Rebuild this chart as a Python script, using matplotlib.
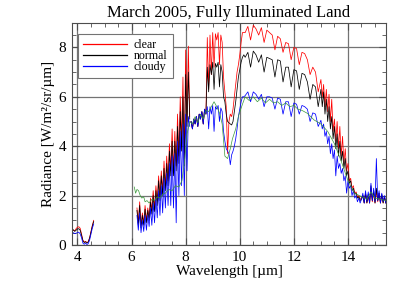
import numpy as np
import matplotlib
matplotlib.use("Agg")
import matplotlib.pyplot as plt
from matplotlib.ticker import MultipleLocator

plt.rcParams['font.family'] = ['Liberation Serif', 'DejaVu Serif']

# ---- data (wavelength in um, radiance in W/m2/sr/um) ----
# short-wave piece, 3.8 - 4.6 um
wl_a = [3.80, 3.85, 3.90, 3.95, 4.00, 4.05, 4.10, 4.15, 4.20, 4.25, 4.30, 4.35,
        4.40, 4.45, 4.50, 4.55, 4.60]
clear_a = [0.55, 0.60, 0.58, 0.66, 0.72, 0.74, 0.68, 0.45, 0.20, 0.12, 0.15, 0.10,
           0.14, 0.30, 0.55, 0.80, 1.00]
normal_a = [0.55, 0.62, 0.55, 0.60, 0.65, 0.66, 0.60, 0.40, 0.18, 0.10, 0.13, 0.08,
            0.12, 0.28, 0.52, 0.76, 0.95]
cloudy_a = [0.45, 0.50, 0.46, 0.48, 0.50, 0.52, 0.45, 0.30, 0.08, 0.03, 0.08, 0.02,
            0.06, 0.20, 0.45, 0.68, 0.85]

# water vapour band, 6.2 - 8.15 um
wl_b = [6.20, 6.25, 6.30, 6.35, 6.40, 6.45, 6.50, 6.55, 6.60, 6.65, 6.70, 6.75,
        6.80, 6.85, 6.90, 6.95, 7.00, 7.05, 7.10, 7.15, 7.20, 7.25, 7.30, 7.35,
        7.40, 7.45, 7.50, 7.55, 7.60, 7.65, 7.70, 7.75, 7.80, 7.85, 7.90, 7.95,
        8.00, 8.05, 8.10, 8.15]
clear_b = [1.5, 0.9, 1.75, 0.8, 1.3, 0.9, 1.6, 1.0, 1.5, 1.1, 1.9, 1.4,
           2.2, 1.5, 2.4, 1.8, 2.8, 2.0, 3.0, 2.2, 3.4, 2.4, 3.6, 2.6,
           4.1, 3.0, 4.7, 3.0, 4.6, 3.2, 5.3, 3.6, 6.0, 4.2, 6.8, 3.5,
           7.9, 5.0, 8.05, 5.2]
normal_b = [1.4, 0.8, 1.6, 0.7, 1.2, 0.8, 1.45, 0.9, 1.4, 1.0, 1.75, 1.25,
            2.0, 1.35, 2.2, 1.6, 2.6, 1.8, 2.8, 2.0, 3.1, 2.2, 3.3, 2.4,
            3.8, 2.8, 4.2, 2.8, 4.2, 3.0, 4.8, 3.3, 5.4, 3.8, 6.0, 3.2,
            6.9, 4.8, 7.0, 5.1]
cloudy_b = [1.2, 0.6, 1.3, 0.5, 1.0, 0.55, 1.2, 0.6, 1.2, 0.75, 1.5, 0.8,
            1.7, 0.9, 1.9, 1.1, 2.2, 1.2, 2.4, 1.3, 2.7, 1.5, 2.9, 1.6,
            3.3, 1.6, 3.6, 1.5, 3.7, 0.9, 4.2, 2.0, 4.6, 2.4, 4.9, 2.0,
            5.3, 3.0, 5.2, 4.8]

# window region with ozone band, 8.2 - 10.15 um
wl_c = [8.20, 8.25, 8.30, 8.35, 8.40, 8.45, 8.50, 8.55, 8.60, 8.65, 8.70, 8.75,
        8.80, 8.85, 8.90, 8.95, 9.00, 9.05, 9.10, 9.15, 9.20, 9.25, 9.30, 9.35,
        9.40, 9.45, 9.50, 9.55, 9.60, 9.65, 9.70, 9.75, 9.80, 9.85, 9.90, 9.95,
        10.00, 10.05, 10.10, 10.15]
clear_c = [5.0, 4.7, 5.1, 4.9, 5.2, 4.8, 5.3, 5.1, 5.4, 4.9, 5.5, 5.3,
           8.4, 6.3, 8.5, 6.9, 8.6, 7.2, 8.55, 8.3, 8.6, 7.3, 8.5, 8.2,
           6.8, 6.2, 5.6, 3.7, 5.0, 5.3, 5.2, 5.5, 6.0, 6.5, 7.0, 7.3,
           7.7, 8.2, 8.6, 8.6]
normal_c = [5.0, 4.7, 5.1, 4.9, 5.2, 4.8, 5.3, 5.1, 5.4, 4.9, 5.5, 5.3,
            7.2, 6.2, 7.3, 6.9, 7.4, 6.3, 7.35, 7.2, 7.4, 6.4, 7.3, 7.0,
            6.0, 5.8, 5.3, 5.0, 4.95, 4.9, 4.86, 5.0, 5.4, 5.8, 6.3, 6.8,
            7.1, 7.4, 7.6, 7.7]
cloudy_c = [5.0, 4.7, 5.1, 4.9, 5.2, 4.8, 5.3, 5.1, 5.4, 4.9, 5.5, 5.3,
            5.6, 4.7, 5.6, 5.3, 5.65, 4.6, 5.6, 5.5, 5.65, 5.0, 5.55, 5.4,
            4.6, 4.2, 3.9, 3.8, 3.7, 3.25, 3.65, 3.8, 4.0, 4.3, 4.7, 5.2,
            5.5, 5.8, 6.0, 6.0]

# upper window, 10.2 - 13.0 um
wl_d = [10.2, 10.3, 10.4, 10.5, 10.6, 10.7, 10.8, 10.9, 11.0, 11.1, 11.2, 11.3,
        11.4, 11.5, 11.6, 11.7, 11.8, 11.9, 12.0, 12.1, 12.2, 12.3, 12.4, 12.5,
        12.6, 12.7, 12.8, 12.9, 13.0]
clear_d = [8.6, 8.85, 8.3, 8.9, 8.75, 8.5, 8.8, 8.2, 8.7, 8.6, 8.5, 7.9,
           8.45, 8.35, 7.8, 8.2, 8.15, 7.5, 8.0, 7.95, 7.3, 7.8, 7.75, 7.5,
           6.9, 7.2, 7.0, 6.2, 6.7]
normal_d = [7.6, 7.8, 7.2, 7.85, 7.7, 7.4, 7.7, 7.0, 7.6, 7.55, 7.5, 6.8,
            7.5, 7.45, 6.6, 7.2, 7.2, 6.4, 7.1, 7.05, 6.3, 6.95, 6.9, 6.6,
            5.9, 6.5, 6.4, 5.6, 6.3]
cloudy_d = [6.05, 6.2, 5.8, 6.2, 6.1, 5.9, 6.1, 5.6, 6.0, 6.0, 5.95, 5.5,
            5.95, 5.9, 5.3, 5.8, 5.8, 5.2, 5.75, 5.7, 5.3, 5.65, 5.6, 5.5,
            5.0, 5.35, 5.3, 4.8, 5.05]

# CO2 band edge, 13.05 - 14.5 um
wl_e = [13.05, 13.10, 13.15, 13.20, 13.25, 13.30, 13.35, 13.40, 13.45, 13.50,
        13.55, 13.60, 13.65, 13.70, 13.75, 13.80, 13.85, 13.90, 13.95, 14.00,
        14.05, 14.10, 14.15, 14.20, 14.25, 14.30, 14.35, 14.40, 14.45, 14.50]
clear_e = [6.0, 6.5, 5.6, 6.3, 5.4, 6.1, 5.0, 5.9, 4.6, 5.1,
           4.2, 5.0, 3.9, 4.8, 3.6, 4.4, 3.3, 3.9, 3.0, 3.3,
           2.6, 2.7, 2.3, 2.4, 2.1, 2.15, 1.95, 2.0, 1.85, 1.9]
normal_e = [5.6, 6.2, 5.3, 5.9, 5.0, 5.6, 4.7, 5.2, 4.3, 4.8,
            3.9, 4.5, 3.6, 4.2, 3.4, 3.8, 3.1, 3.5, 2.8, 3.0,
            2.5, 2.6, 2.2, 2.3, 2.05, 2.1, 1.9, 1.95, 1.8, 1.85]
cloudy_e = [4.7, 4.9, 4.4, 4.6, 4.1, 4.4, 3.7, 4.1, 3.5, 3.85,
            2.8, 3.6, 3.1, 3.3, 2.9, 3.1, 2.6, 2.8, 2.1, 2.6,
            2.3, 2.4, 2.0, 2.2, 1.9, 2.0, 1.75, 1.9, 1.7, 1.85]

# CO2 band centre, 14.55 - 15.4 um (all three cases overlap)
wl_f = [14.55, 14.60, 14.65, 14.70, 14.75, 14.80, 14.85, 14.90, 14.95, 15.00,
        15.05, 15.10, 15.15, 15.20, 15.25, 15.30, 15.35, 15.40]
clear_f = [2.0, 1.7, 2.1, 1.7, 2.0, 1.7, 2.3, 1.75, 2.1, 1.7,
           2.2, 1.75, 2.1, 1.7, 2.0, 1.7, 1.95, 1.7]
normal_f = [2.0, 1.7, 2.1, 1.7, 2.05, 1.7, 2.4, 1.8, 2.2, 1.7,
            2.3, 1.8, 2.1, 1.7, 2.05, 1.7, 1.95, 1.7]
cloudy_f = [2.1, 1.7, 2.2, 1.75, 2.15, 1.7, 2.5, 1.8, 2.3, 1.75,
            3.5, 1.8, 2.2, 1.7, 2.1, 1.75, 2.0, 1.7]

# thin green reference curve
wl_g = [6.10, 6.15, 6.20, 6.26, 6.32, 6.38, 6.45, 6.50, 6.57, 6.65, 6.75, 6.85,
        6.95, 7.05, 7.15, 7.25, 7.37, 7.50, 7.62, 7.75, 7.86, 7.95, 8.05, 8.15,
        8.25, 8.35, 8.45, 8.55, 8.65, 8.75, 8.85, 8.95, 9.05, 9.15, 9.25, 9.35,
        9.45, 9.55, 9.65, 9.73, 9.85, 9.96, 10.1, 10.2, 10.35, 10.5, 10.65, 10.8,
        10.95, 11.1, 11.25, 11.4, 11.55, 11.7, 11.85, 12.0, 12.15, 12.3, 12.5,
        12.75, 13.0, 13.25, 13.5, 13.75, 14.0, 14.24, 14.5, 14.7, 14.85, 15.0,
        15.2, 15.4]
green_g = [2.35, 2.1, 2.25, 2.2, 2.0, 1.9, 1.95, 1.75, 1.8, 1.7, 1.85, 1.8,
           1.95, 1.9, 2.05, 2.1, 2.25, 2.2, 2.4, 2.35, 2.6, 3.3, 4.5, 5.0,
           4.9, 5.2, 4.95, 5.3, 5.1, 5.45, 5.4, 5.6, 5.8, 5.6, 5.35, 4.9,
           3.6, 3.5, 3.9, 4.3, 4.7, 5.25, 5.7, 6.0, 5.85, 6.0, 5.8, 5.95,
           5.75, 5.9, 5.75, 5.8, 5.65, 5.75, 5.6, 5.65, 5.5, 5.45, 5.33,
           5.06, 4.9, 4.6, 4.1, 3.4, 2.6, 2.1, 1.96, 1.85, 2.15, 1.9,
           1.85, 1.8]


def join(*parts):
    # NaN between pieces that are not connected in the spectrum
    out = []
    for i, p in enumerate(parts):
        if i > 0:
            out.append(np.nan)
        out.extend(p)
    return np.array(out, dtype=float)


wl = join(wl_a, wl_b, wl_c + wl_d + wl_e + wl_f)
clear = join(clear_a, clear_b, clear_c + clear_d + clear_e + clear_f)
normal = join(normal_a, normal_b, normal_c + normal_d + normal_e + normal_f)
cloudy = join(cloudy_a, cloudy_b, cloudy_c + cloudy_d + cloudy_e + cloudy_f)

fig = plt.figure(figsize=(4.07, 2.91), dpi=100)
ax = fig.add_axes([0.177, 0.158, 0.771, 0.764])

ax.grid(True, which='major', color='0.45', lw=0.9)
ax.set_axisbelow(True)

ax.plot(wl, clear, color='red', lw=0.55, label='clear')
ax.plot(wl, normal, color='black', lw=0.55, label='normal')
ax.plot(wl, cloudy, color='blue', lw=0.55, label='cloudy')
ax.plot(wl_g, green_g, color='#3a9a3a', lw=0.5)

ax.set_xlim(3.8, 15.4)
ax.set_ylim(0, 9.0)
ax.xaxis.set_major_locator(MultipleLocator(2))
ax.xaxis.set_minor_locator(MultipleLocator(0.5))
ax.yaxis.set_major_locator(MultipleLocator(2))
ax.yaxis.set_minor_locator(MultipleLocator(0.5))
ax.tick_params(which='both', direction='in', top=True, right=True,
               labelsize=11, color='0.3')
ax.tick_params(which='major', length=5, pad=4)
ax.tick_params(which='minor', length=3)
for s in ax.spines.values():
    s.set_color('0.3')
    s.set_linewidth(0.8)

ax.set_title('March 2005, Fully Illuminated Land', fontsize=12, pad=4)
ax.set_xlabel('Wavelength [µm]', fontsize=11, labelpad=1)
ax.set_ylabel('Radiance [W/m²/sr/µm]', fontsize=11, labelpad=3)

leg = ax.legend(loc='upper left', bbox_to_anchor=(0.018, 0.95), borderaxespad=0,
                fontsize=8.6, handlelength=3.7, handletextpad=0.55,
                labelspacing=-0.1, fancybox=False, framealpha=1,
                borderpad=0.45)
leg.get_frame().set_edgecolor('0.45')
leg.get_frame().set_linewidth(0.8)
for h in leg.get_lines():
    h.set_linewidth(0.9)

fig.savefig('out.png', dpi=100)
